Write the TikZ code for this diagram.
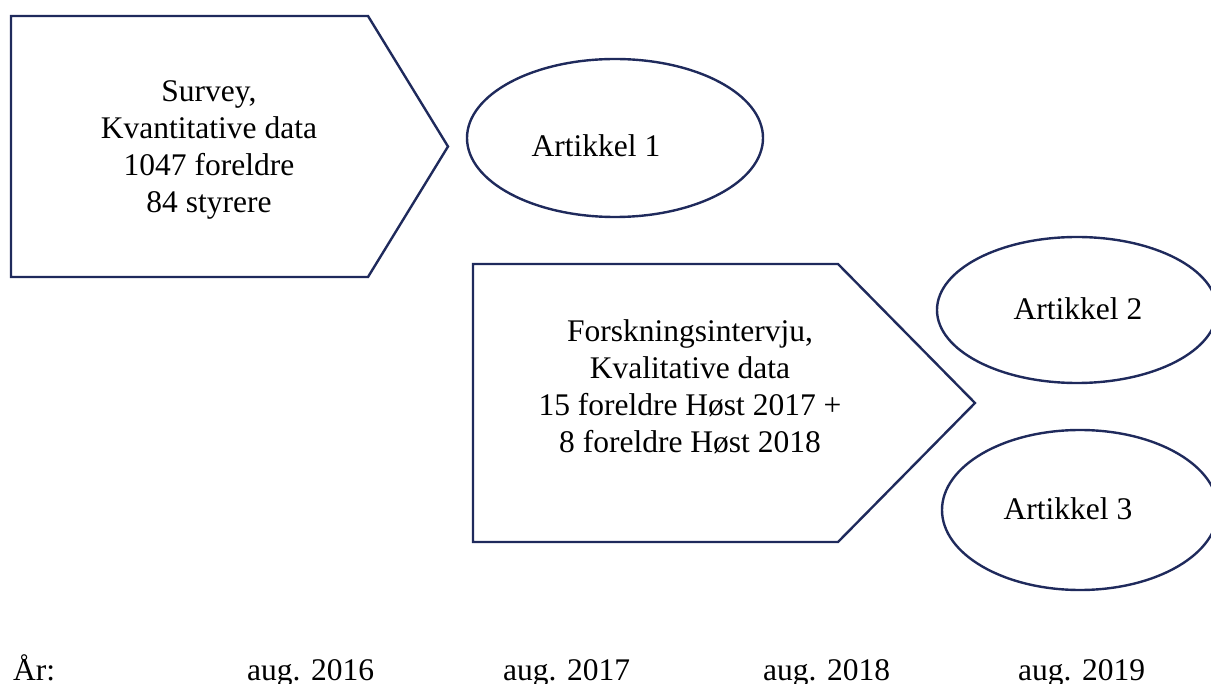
\documentclass[tikz,border=0pt]{standalone}
\usepackage{fontspec}
\setmainfont{Liberation Serif}
\definecolor{navy}{RGB}{31,42,92}
\begin{document}
\begin{tikzpicture}[x=1pt,y=-1pt,
  outline/.style={draw=navy,line width=2.4pt,line join=miter},
  txt/.style={inner sep=0pt,text=black,font=\fontsize{31.5}{37}\selectfont},
  block/.style={txt,align=center,anchor=center}]
\useasboundingbox (0,0) rectangle (1211,684);
\clip (0,0) rectangle (1211,684);
% shapes
\draw[outline] (11,16) -- (368,16) -- (448,146.5) -- (368,277) -- (11,277) -- cycle;
\draw[outline] (615,138) ellipse [x radius=148, y radius=79];
\draw[outline] (473,264) -- (838,264) -- (975,403) -- (838,542) -- (473,542) -- cycle;
\draw[outline] (1077,310) ellipse [x radius=140, y radius=73];
\draw[outline] (1080,510) ellipse [x radius=138, y radius=80];
% texts
\node[block] (survey) at (209,150.1) {\strut Survey,\\Kvantitative data\\1047 foreldre\\84 styrere\strut};
\node[block] (intervju) at (690,389.6) {\strut Forskningsintervju,\\Kvalitative data\\15 foreldre Høst 2017 +\\8 foreldre Høst 2018\strut};
\node[txt,anchor=base] (a1) at (596,157) {Artikkel 1};
\node[txt,anchor=base] (a2) at (1078,320) {Artikkel 2};
\node[txt,anchor=base] (a3) at (1068,520) {Artikkel 3};
\node[txt,anchor=base west] (aar) at (13,680) {År:};
\node[txt,anchor=base west] (y16) at (247,680) {aug. 2016};
\node[txt,anchor=base west] (y17) at (503,680) {aug. 2017};
\node[txt,anchor=base west] (y18) at (763,680) {aug. 2018};
\node[txt,anchor=base west] (y19) at (1018,680) {aug. 2019};
\end{tikzpicture}
\end{document}
